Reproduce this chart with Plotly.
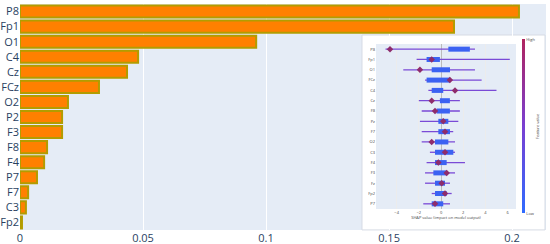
import plotly.graph_objects as go

# ---- main bar chart data (mean |SHAP| importance) ----
channels = ["P8", "Fp1", "O1", "C4", "Cz", "FCz", "O2", "P2", "F3", "F8", "F4", "P7", "F7", "C3", "Fp2"]
importance = [0.2028, 0.1764, 0.0960, 0.0480, 0.0435, 0.0321, 0.0195, 0.0171, 0.0171, 0.0110, 0.0098, 0.0069, 0.0033, 0.0024, 0.0008]
x_ticks = [0, 0.05, 0.1, 0.15, 0.2]
x_ticktext = ["0", "0.05", "0.1", "0.15", "0.2"]

# ---- inset SHAP summary data ----
inset_features = ["P8", "Fp1", "O1", "FCz", "C4", "Cz", "F8", "Pz", "F7", "O2", "C3", "F4", "F3", "Fz", "Fp2", "P7"]
shap_min = [-5.0, -2.2, -3.4, -1.44, -1.14, -2.0, -1.74, -1.9, -1.74, -1.74, -1.0, -1.3, -1.44, -1.44, -0.84, -1.6]
shap_max = [3.06, 6.2, 3.06, 3.66, 5.0, 1.7, 1.7, 1.56, 1.1, 1.26, 1.26, 2.16, 1.26, 0.81, 0.96, 0.81]
core_lo = [0.66, -1.3, -0.84, -1.3, -0.84, -0.1, -0.4, -0.24, -0.24, -0.54, -0.54, -0.54, -0.69, -0.54, -0.54, -0.84]
core_hi = [2.6, -0.1, 0.81, 0.81, 0.2, 0.8, 0.8, 0.66, 0.81, 0.66, 1.11, 0.51, 0.51, 0.36, 0.51, 0.2]
high_pos = [-4.6, -0.84, -1.9, 0.8, 1.26, -0.84, -0.54, 0.2, 0.36, -0.84, 0.36, -0.24, 0.51, 0.06, 0.36, -0.54]
inset_ticks = [-4, -2, 0, 2, 4, 6]

fig = go.Figure()

fig.add_trace(go.Bar(
    x=importance, y=channels, orientation="h",
    marker=dict(color="#ff8000", line=dict(color="#b39c00", width=2)),
    showlegend=False, hoverinfo="skip",
))

# range lines
rx, ry = [], []
for f, a, b in zip(inset_features, shap_min, shap_max):
    rx += [a, b, None]
    ry += [f, f, None]
fig.add_trace(go.Scatter(x=rx, y=ry, mode="lines", xaxis="x2", yaxis="y2",
                         line=dict(color="#7a4ad6", width=1.3), showlegend=False, hoverinfo="skip"))
# dense cores
cx, cy = [], []
for f, a, b in zip(inset_features, core_lo, core_hi):
    cx += [a, b, None]
    cy += [f, f, None]
fig.add_trace(go.Scatter(x=cx, y=cy, mode="lines", xaxis="x2", yaxis="y2",
                         line=dict(color="#3b62f2", width=5), showlegend=False, hoverinfo="skip"))
# high-feature-value clusters
fig.add_trace(go.Scatter(x=high_pos, y=inset_features, mode="markers", xaxis="x2", yaxis="y2",
                         marker=dict(color="#8e2c6c", size=5, symbol="diamond"),
                         showlegend=False, hoverinfo="skip"))
# colorbar carrier
fig.add_trace(go.Scatter(
    x=[shap_min[0], shap_min[0]], y=[inset_features[0], inset_features[0]], mode="markers",
    xaxis="x2", yaxis="y2", hoverinfo="skip", showlegend=False,
    marker=dict(size=0.1, opacity=0, color=[0, 1], cmin=0, cmax=1,
                colorscale=[[0, "#2f6bff"], [0.5, "#7a3fd2"], [1, "#b0245e"]],
                showscale=True,
                colorbar=dict(x=0.955, xanchor="left", y=0.458, yanchor="middle",
                              len=174, lenmode="pixels", thickness=3,
                              outlinewidth=0, xpad=0, ypad=0, ticks="",
                              tickvals=[0, 1], ticktext=["Low", "High"],
                              tickfont=dict(size=4, color="#444"),
                              title=dict(text="Feature value", side="right",
                                         font=dict(size=4, color="#444"))))))

fig.update_layout(
    width=550, height=244,
    margin=dict(l=20, r=4, t=4, b=14, autoexpand=False),
    template="plotly",
    plot_bgcolor="#E5ECF6",
    paper_bgcolor="white",
    bargap=0.2,
    font=dict(family="Open Sans, Arial, sans-serif", color="#2a3f5f"),
    xaxis=dict(domain=[0, 1], tickvals=x_ticks, ticktext=x_ticktext, automargin=False,
               tickfont=dict(size=11), gridcolor="white", zeroline=False,
               range=[0, 0.2138]),
    yaxis=dict(autorange="reversed", tickfont=dict(size=11), automargin=False),
    xaxis2=dict(domain=[0.6768, 0.943], anchor="y2", range=[-5.86, 6.76], automargin=False,
                tickvals=inset_ticks, tickfont=dict(size=4, color="#444"),
                gridcolor="#ececec", gridwidth=0.6, zeroline=True, zerolinecolor="#bbbbbb",
                zerolinewidth=0.8, showline=False, ticks="",
                title=dict(text="SHAP value (impact on model output)", font=dict(size=4, color="#444"),
                           standoff=2)),
    yaxis2=dict(domain=[0.093, 0.823], anchor="x2", range=[15.5, -0.5], automargin=False,
                type="category", categoryorder="array", categoryarray=inset_features,
                tickfont=dict(size=4, color="#444"), showgrid=False, ticks=""),
    shapes=[dict(type="rect", xref="x2 domain", yref="y2 domain", layer="below",
                 x0=-0.1, x1=1.207, y0=-0.127, y1=1.0545,
                 fillcolor="white", line=dict(color="#d6dbe4", width=1))],
)

fig.write_html("out.html", config={"displayModeBar": False},
               post_script="document.body.style.margin='0';document.body.style.overflow='hidden';")
